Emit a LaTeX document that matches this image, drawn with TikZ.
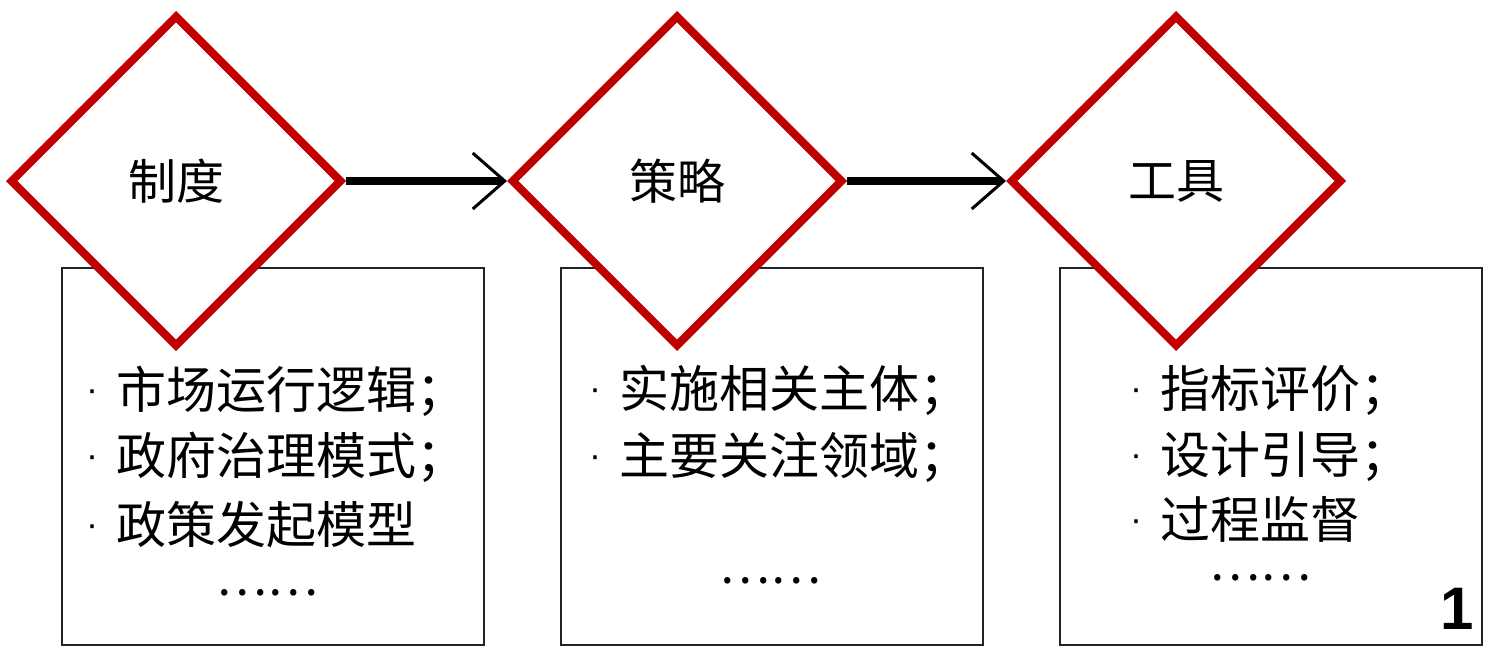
\documentclass[tikz,border=0pt]{standalone}
\usepackage{fontspec}
\newfontfamily\cjk{Noto Sans CJK SC}
\newfontfamily\numfont{Liberation Sans}
\usetikzlibrary{shapes.geometric,arrows.meta}
\definecolor{dred}{HTML}{C00000}
\definecolor{boxline}{HTML}{1E2528}
\newcommand{\pt}{\llap{\numfont\fontsize{36}{36}\selectfont\raisebox{7pt}{·}\hspace{18pt}}}

\begin{document}
\begin{tikzpicture}[x=1pt,y=-1pt,
  kind/.style={diamond,draw=dred,line width=8pt,fill=white,minimum width=332pt,minimum height=332pt,inner sep=0pt,font=\cjk\fontsize{48}{48}\selectfont},
  panel/.style={draw=boxline,line width=2.5pt,minimum width=422pt,minimum height=377pt,inner sep=0pt},
  item/.style={anchor=west,inner sep=0pt,font=\cjk\fontsize{50}{50}\selectfont},
  more/.style={inner sep=0pt,font=\cjk\fontsize{48}{48}\selectfont},
  flow/.style={line width=8pt,-{Straight Barb[length=32pt,width=56pt,line width=3pt]}}]
  \useasboundingbox[fill=white] (0,0) rectangle (1488,653);

  \node[panel] (B1) at (273,456.5) {};
  \node[panel] (B2) at (772,456.5) {};
  \node[panel] (B3) at (1271,456.5) {};

  \node[kind] (D1) at (176,181) {制度};
  \node[kind] (D2) at (677,181) {策略};
  \node[kind] (D3) at (1176,181) {工具};

  \draw[flow] (D1.east) -- (D2.west);
  \draw[flow] (D2.east) -- (D3.west);

  \node[item] (T11) at (116,391) {\pt 市场运行逻辑；};
  \node[item] (T12) at (116,457) {\pt 政府治理模式；};
  \node[item] (T13) at (116,525) {\pt 政策发起模型};
  \node[more] (M1) at (267,595) {\smash{……}};

  \node[item] (T21) at (619,390) {\pt 实施相关主体；};
  \node[item] (T22) at (619,457) {\pt 主要关注领域；};
  \node[more] (M2) at (770,583) {\smash{……}};

  \node[item] (T31) at (1160,390) {\pt 指标评价；};
  \node[item] (T32) at (1160,457) {\pt 设计引导；};
  \node[item] (T33) at (1160,519) {\pt 过程监督};
  \node[more] (M3) at (1260,580) {\smash{……}};

  \node[inner sep=0pt,font=\numfont\bfseries\fontsize{60}{60}\selectfont] (N) at (1457,609) {1};
\end{tikzpicture}
\end{document}
